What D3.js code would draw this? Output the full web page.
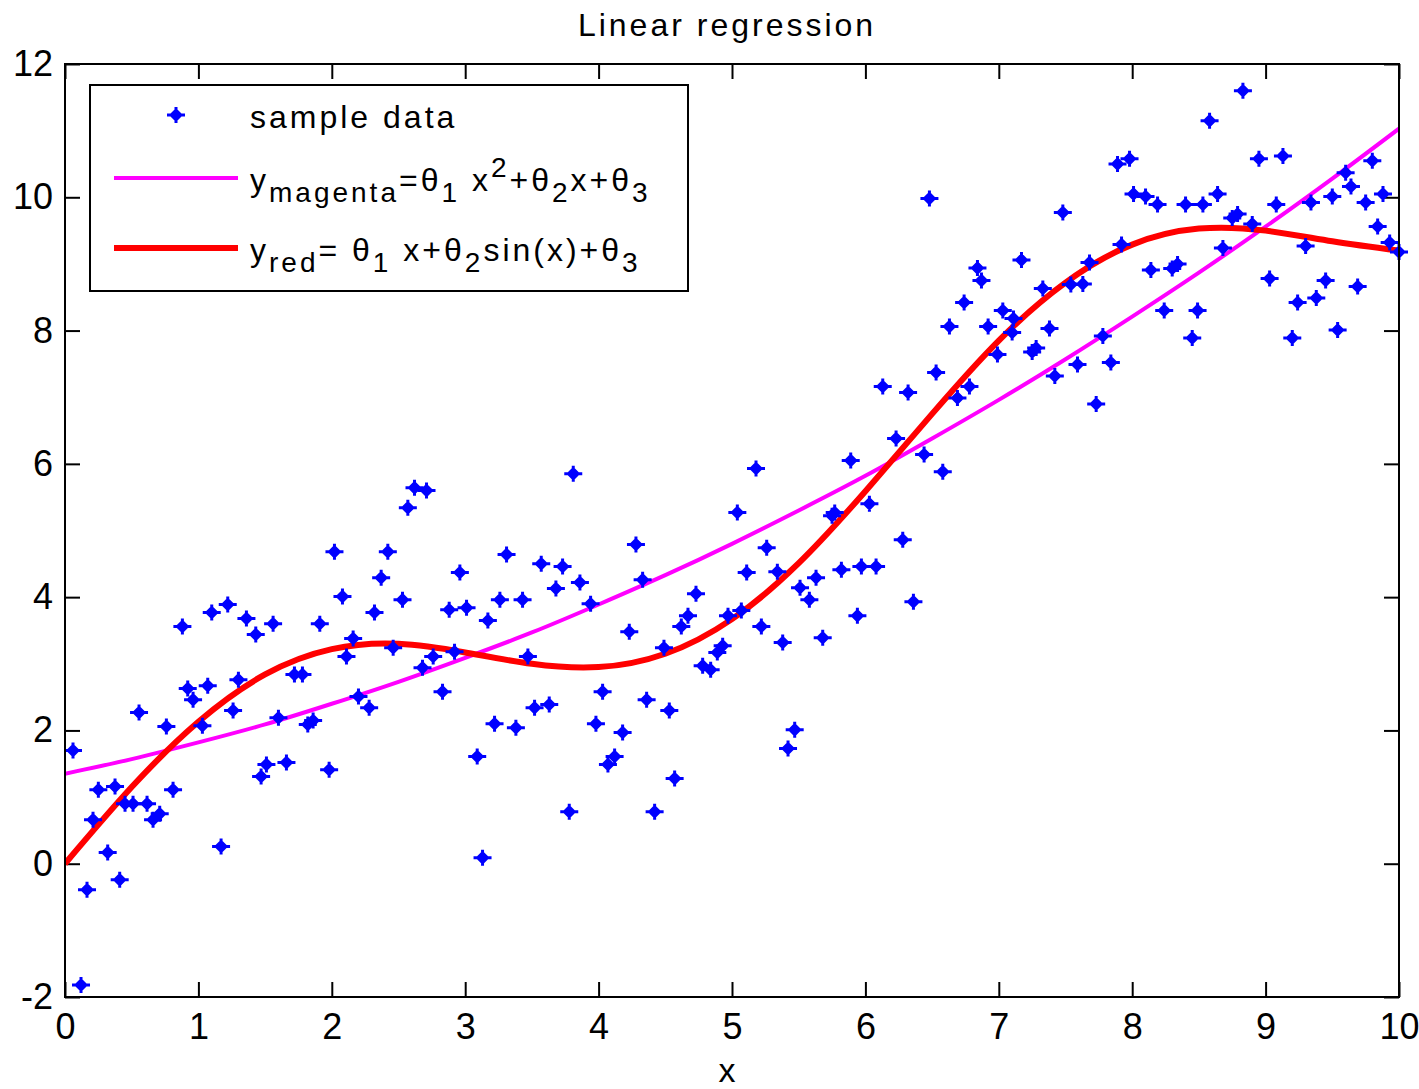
<!DOCTYPE html>
<html>
<head>
<meta charset="utf-8">
<script src="https://cdn.jsdelivr.net/npm/d3@7"></script>
<style>
  body { margin: 0; background: #fff; }
  text { font-family: "Liberation Sans", Arial, sans-serif; fill: #000; }
</style>
</head>
<body>
<div id="chart"></div>
<script>
// sample points
const sampleX = [0.06,0.12,0.165,0.21,0.25,0.32,0.375,0.41,0.45,0.51,0.555,0.615,0.66,0.71,0.76,0.81,0.88,0.92,0.96,1.03,
  1.07,1.10,1.17,1.22,1.26,1.30,1.36,1.43,1.47,1.51,1.56,1.60,1.66,1.72,1.78,1.82,1.86,1.91,1.98,2.02,
  2.08,2.11,2.16,2.20,2.28,2.32,2.37,2.42,2.46,2.53,2.57,2.62,2.71,2.68,2.76,2.83,2.88,2.92,2.96,3.01,
  3.09,3.13,3.17,3.22,3.26,3.31,3.38,3.43,3.47,3.52,3.57,3.63,3.68,3.73,3.78,3.81,3.86,3.94,3.98,4.03,
  4.07,4.12,4.18,4.23,4.28,4.33,4.36,4.42,4.49,4.53,4.57,4.62,4.67,4.73,4.78,4.84,4.89,4.93,4.97,5.04,
  5.07,5.11,5.18,5.22,5.26,5.34,5.38,5.42,5.47,5.51,5.58,5.63,5.68,5.75,5.77,5.82,5.89,5.94,5.97,6.03,
  6.08,6.13,6.23,6.28,6.32,6.36,6.44,6.48,6.53,6.58,6.63,6.69,6.74,6.78,6.84,6.87,6.92,6.99,7.03,7.10,
  7.11,7.17,7.25,7.28,7.33,7.38,7.42,7.48,7.54,7.59,7.63,7.68,7.73,7.78,7.84,7.89,7.92,7.98,8.01,8.10,
  8.14,8.19,8.24,8.30,8.34,8.40,8.45,8.49,8.53,8.58,8.64,8.68,8.75,8.79,8.83,8.90,8.95,9.03,9.08,9.13,
  9.20,9.24,9.30,9.34,9.38,9.45,9.50,9.54,9.60,9.64,9.69,9.75,9.80,9.84,9.88,9.93,10.0];
const sampleY = [1.70,-1.82,-0.39,0.66,1.11,0.17,1.16,-0.24,0.90,0.90,2.27,0.90,0.66,0.75,2.06,1.11,3.56,2.63,2.46,2.07,
  2.67,3.77,0.26,3.89,2.30,2.76,3.68,3.44,1.31,1.49,3.60,2.19,1.52,2.84,2.84,2.09,2.15,3.60,1.41,4.68,
  4.01,3.11,3.38,2.51,2.34,3.77,4.29,4.68,3.24,3.96,5.34,5.64,5.60,2.94,3.11,2.58,3.81,3.18,4.37,3.84,
  1.61,0.09,3.65,2.10,3.96,4.64,2.04,3.96,3.11,2.34,4.50,2.39,4.13,4.46,0.78,5.85,4.22,3.90,2.10,2.58,
  1.49,1.61,1.97,3.48,4.79,4.26,2.46,0.78,3.24,2.30,1.28,3.56,3.72,4.05,2.97,2.91,3.17,3.27,3.72,5.27,
  3.80,4.37,5.93,3.56,4.74,4.38,3.32,1.73,2.01,4.14,3.96,4.29,3.39,5.22,5.27,4.41,6.05,3.72,4.46,5.40,
  4.46,7.16,6.38,4.86,7.07,3.93,6.14,9.98,7.37,5.88,8.06,6.99,8.42,7.16,8.94,8.75,8.06,7.64,8.30,7.97,
  8.18,9.06,7.68,7.74,8.63,8.03,7.32,9.77,8.69,7.49,8.70,9.02,6.90,7.92,7.52,10.50,9.29,10.58,10.05,10.01,
  8.91,9.89,8.30,8.93,9.00,9.89,7.89,8.30,9.89,11.15,10.05,9.24,9.69,9.75,11.60,9.60,10.58,8.78,9.89,10.62,
  7.89,8.42,9.27,9.92,8.49,8.75,10.01,8.01,10.37,10.16,8.66,9.92,10.55,9.56,10.05,9.32,9.18];

// fitted curves, read at every half unit
const curveX = [0,0.5,1,1.5,2,2.5,3,3.5,4,4.5,5,5.5,6,6.5,7,7.5,8,8.5,9,9.5,10];
const magentaY = [1.35,1.57,1.82,2.09,2.40,2.73,3.09,3.47,3.89,4.33,4.80,5.30,5.82,6.38,6.96,7.57,8.21,8.87,9.56,10.28,11.03];
const redY = [0,1.15,2.13,2.84,3.22,3.30,3.17,3.00,2.95,3.15,3.67,4.51,5.59,6.75,7.85,8.72,9.29,9.53,9.50,9.34,9.20];

const xTicks = [0,1,2,3,4,5,6,7,8,9,10];
const yTicks = [-2,0,2,4,6,8,10,12];

const W = 1419, H = 1089;
const margin = { left: 65, top: 64, right: 20, bottom: 92 };
const pw = W - margin.left - margin.right;
const ph = H - margin.top - margin.bottom;

const svg = d3.select("#chart").append("svg")
  .attr("width", W).attr("height", H)
  .style("background", "#fff");

const x = d3.scaleLinear().domain([0, 10]).range([0, pw]);
const y = d3.scaleLinear().domain([-2, 12]).range([ph, 0]);

const g = svg.append("g").attr("transform", `translate(${margin.left},${margin.top})`);

g.append("clipPath").attr("id", "plotclip")
  .append("rect").attr("width", pw).attr("height", ph);

// ticks point inward on all four sides, matlab style
const tickLen = 15;
const tickFont = "36px";
const fmt = d => String(d);   // plain hyphen for -2
const axB = g.append("g").attr("transform", `translate(0,${ph})`)
  .call(d3.axisBottom(x).tickValues(xTicks).tickSize(-tickLen).tickPadding(16).tickFormat(fmt));
const axT = g.append("g")
  .call(d3.axisTop(x).tickValues(xTicks).tickSize(-tickLen).tickFormat(""));
const axL = g.append("g")
  .call(d3.axisLeft(y).tickValues(yTicks).tickSize(-tickLen).tickPadding(12).tickFormat(fmt));
const axR = g.append("g").attr("transform", `translate(${pw},0)`)
  .call(d3.axisRight(y).tickValues(yTicks).tickSize(-tickLen).tickFormat(""));

[axB, axT, axL, axR].forEach(a => {
  a.select(".domain").remove();
  a.selectAll("line").attr("stroke", "#000").attr("stroke-width", 2);
  a.selectAll("text").style("font-size", tickFont).attr("fill", "#000");
});

const plot = g.append("g").attr("clip-path", "url(#plotclip)");

const line = d3.line().x(d => x(d[0])).y(d => y(d[1])).curve(d3.curveNatural);

plot.append("path")
  .datum(curveX.map((v, i) => [v, magentaY[i]]))
  .attr("d", line).attr("fill", "none")
  .attr("stroke", "#ff00ff").attr("stroke-width", 4);

plot.append("path")
  .datum(curveX.map((v, i) => [v, redY[i]]))
  .attr("d", line).attr("fill", "none")
  .attr("stroke", "#ff0000").attr("stroke-width", 6);

// chunky diamond with short spikes, like the blurry matlab dot marker
const spark = {
  draw(ctx) {
    ctx.moveTo(0, -7); ctx.lineTo(7, 0); ctx.lineTo(0, 7); ctx.lineTo(-7, 0); ctx.closePath();
    ctx.moveTo(-9, -1.5); ctx.lineTo(9, -1.5); ctx.lineTo(9, 1.5); ctx.lineTo(-9, 1.5); ctx.closePath();
    ctx.moveTo(-1.5, -8); ctx.lineTo(1.5, -8); ctx.lineTo(1.5, 8); ctx.lineTo(-1.5, 8); ctx.closePath();
  }
};
const marker = d3.symbol().type(spark);
g.append("g").selectAll("path")
  .data(sampleX.map((v, i) => [v, sampleY[i]]))
  .join("path")
  .attr("d", marker)
  .attr("transform", d => `translate(${x(d[0])},${y(d[1])})`)
  .attr("fill", "#0000ff");

// frame
g.append("rect").attr("width", pw).attr("height", ph)
  .attr("fill", "none").attr("stroke", "#000").attr("stroke-width", 2);

// title and x label
svg.append("text").attr("x", 727).attr("y", 36)
  .attr("text-anchor", "middle").style("font-size", "32px").style("letter-spacing", "3px")
  .text("Linear regression");
svg.append("text").attr("x", 727).attr("y", 1082)
  .attr("text-anchor", "middle").style("font-size", "34px")
  .text("x");

// legend
const lg = svg.append("g").attr("transform", "translate(90,85)");
lg.append("rect").attr("width", 598).attr("height", 206)
  .attr("fill", "#fff").attr("stroke", "#000").attr("stroke-width", 2);

lg.append("path").attr("d", marker)
  .attr("transform", "translate(86,30)").attr("fill", "#0000ff");
lg.append("text").attr("x", 160).attr("y", 43)
  .style("font-size", "32px").style("letter-spacing", "3px").text("sample data");

lg.append("line").attr("x1", 24).attr("x2", 148).attr("y1", 93).attr("y2", 93)
  .attr("stroke", "#ff00ff").attr("stroke-width", 4);
lg.append("line").attr("x1", 24).attr("x2", 148).attr("y1", 163).attr("y2", 163)
  .attr("stroke", "#ff0000").attr("stroke-width", 6);

function eq(yPos, parts) {
  const t = lg.append("text").attr("x", 160).attr("y", yPos)
    .style("font-size", "32px").style("letter-spacing", "3px");
  let shift = 0;
  parts.forEach(p => {
    const target = p.sub ? 11 : p.sup ? -14 : 0;
    const s = t.append("tspan").text(p.t).attr("dy", target - shift);
    shift = target;
    if (p.sub || p.sup) s.style("font-size", "28px");
  });
}
eq(106, [
  { t: "y" }, { t: "magenta", sub: true }, { t: "=θ" }, { t: "1", sub: true },
  { t: " x" }, { t: "2", sup: true }, { t: "+θ" }, { t: "2", sub: true },
  { t: "x+θ" }, { t: "3", sub: true }
]);
eq(176, [
  { t: "y" }, { t: "red", sub: true }, { t: "= θ" }, { t: "1", sub: true },
  { t: " x+θ" }, { t: "2", sub: true }, { t: "sin(x)+θ" }, { t: "3", sub: true }
]);
</script>
</body>
</html>
